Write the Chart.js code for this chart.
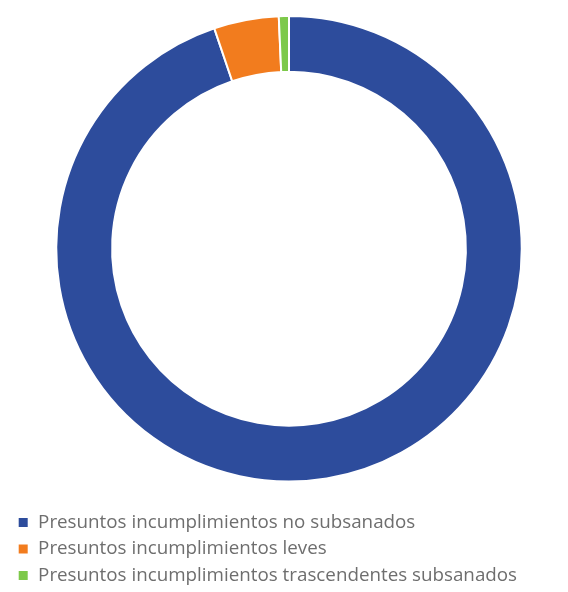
<!DOCTYPE html>
<html>
<head>
<meta charset="utf-8">
<script src="https://cdn.jsdelivr.net/npm/chart.js@4"></script>
<style>
  html, body { margin: 0; padding: 0; background: #fff; overflow: hidden; }
  #wrap { position: relative; width: 568px; height: 595px; }
</style>
</head>
<body>
<div id="wrap"><canvas id="chart"></canvas></div>
<script>
const categories = [
  'Presuntos incumplimientos no subsanados',
  'Presuntos incumplimientos leves',
  'Presuntos incumplimientos trascendentes subsanados'
];
const values = [94.8, 4.5, 0.7];
const colors = ['#2d4c9c', '#f27c1e', '#7dc94a'];

const ctx = document.getElementById('chart').getContext('2d');
new Chart(ctx, {
  type: 'doughnut',
  data: {
    labels: categories,
    datasets: [{
      data: values,
      backgroundColor: colors,
      borderColor: '#ffffff',
      borderWidth: 2
    }]
  },
  options: {
    responsive: true,
    maintainAspectRatio: false,
    animation: false,
    cutout: '76%',
    layout: {
      padding: { top: 15, left: 10, right: 0, bottom: 0 }
    },
    plugins: {
      tooltip: { enabled: false },
      legend: {
        position: 'bottom',
        align: 'start',
        // empty title only used as a spacer between ring and legend
        title: {
          display: true,
          text: '',
          font: { size: 1, lineHeight: 1 },
          padding: { top: 0, bottom: 22 }
        },
        labels: {
          boxWidth: 11,
          boxHeight: 11,
          padding: 7.7,
          color: '#6e6e6e',
          font: { family: '"Open Sans", sans-serif', size: 18.8 }
        }
      }
    }
  }
});
</script>
</body>
</html>
